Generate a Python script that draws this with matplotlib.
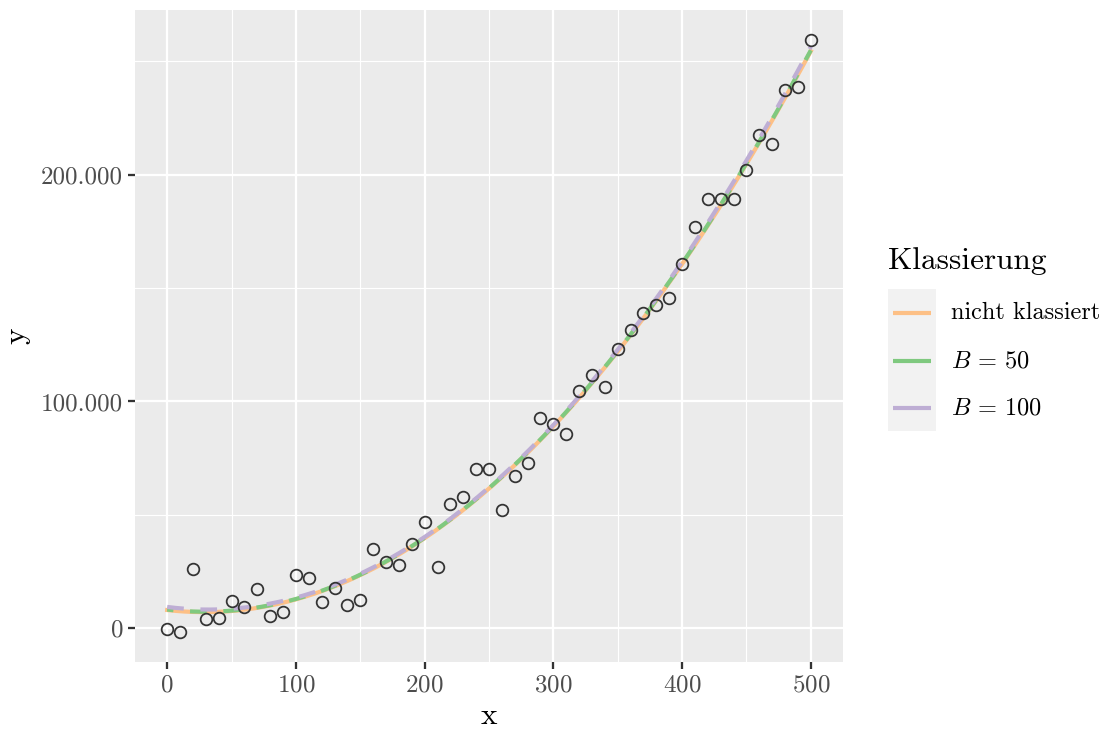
import matplotlib.pyplot as plt
import numpy as np

plt.rcParams['font.family'] = 'cmr10'
plt.rcParams['mathtext.fontset'] = 'cm'
plt.rcParams['axes.formatter.use_mathtext'] = True

# Messwerte
x = np.arange(0, 501, 10)
y = np.array([-400, -1800, 26000, 4000, 4400, 11900, 9250, 17200, 5300, 7050,
              23350, 22000, 11450, 17600, 10100, 12300, 34800, 29100, 27750, 37000,
              46700, 26900, 55000, 57700, 70000, 70000, 52000, 67000, 72700, 92500,
              89900, 85500, 104400, 111500, 106200, 122900, 131300, 139200, 142300, 145400,
              160800, 176700, 189400, 189400, 189400, 202200, 217600, 213700, 237400, 238800,
              259500])

klassen = ['nicht klassiert', r'$B\,=\,50$', r'$B\,=\,100$']
breiten = [None, 50, 100]
farben = ['#FDC086', '#7FC97F', '#BEAED4']

x_ticks = [0, 100, 200, 300, 400, 500]
y_ticks = [0, 100000, 200000]
y_ticklabels = ['0', '100.000', '200.000']


def quad_fit(x, y, B):
    # quadratische Regression, optional auf Klassenmittel
    if B is None:
        return np.polyfit(x, y, 2)
    idx = x // B
    xm, ym, n = [], [], []
    for k in np.unique(idx):
        m = idx == k
        xm.append(x[m].mean())
        ym.append(y[m].mean())
        n.append(m.sum())
    return np.polyfit(xm, ym, 2, w=np.sqrt(n))


W, H = 1104, 731
fig = plt.figure(figsize=(W / 150, H / 150), dpi=150)
ax = fig.add_axes([135 / W, 1 - 662 / H, (843 - 135) / W, (662 - 10) / H])
ax.set_facecolor('#EBEBEB')
for s in ax.spines.values():
    s.set_visible(False)

xx = np.linspace(0, 500, 300)
styles = [dict(ls='-'), dict(ls=(2.5, (4, 4))), dict(ls=(0, (4, 4)))]
for lab, B, c, st in zip(klassen, breiten, farben, styles):
    p = quad_fit(x, y, B)
    ax.plot(xx, np.polyval(p, xx), color=c, lw=2.0, zorder=2,
            dash_capstyle='butt', **st)

ax.plot(x, y, 'o', mfc='none', mec='#333333', ms=5.6, mew=0.85, zorder=3)

ax.set_xlim(-25, 525)
pad = 0.05 * (y.max() - y.min())
ax.set_ylim(y.min() - pad, y.max() + pad)

ax.set_xticks(x_ticks)
ax.set_xticks([50, 150, 250, 350, 450], minor=True)
ax.set_yticks(y_ticks, labels=y_ticklabels)
ax.set_yticks([50000, 150000, 250000], minor=True)
ax.grid(which='major', color='white', lw=1.1)
ax.grid(which='minor', color='white', lw=0.55)
ax.set_axisbelow(True)
ax.tick_params(which='major', length=3.2, width=1.1, color='#333333',
               labelcolor='#4D4D4D', labelsize=12, pad=2.5)
ax.tick_params(which='minor', length=0)

ax.set_xlabel('x', fontsize=15, labelpad=3)
ax.set_ylabel('y', fontsize=15, labelpad=5)

# Legende
fig.text(888 / W, 1 - 261 / H, 'Klassierung', fontsize=15, va='center', ha='left')
lax = fig.add_axes([888 / W, 1 - 431 / H, 48 / W, 142 / H])
lax.set_facecolor('#F2F2F2')
lax.set_xlim(0, 48)
lax.set_ylim(142, 0)
lax.set_xticks([])
lax.set_yticks([])
for s in lax.spines.values():
    s.set_visible(False)
rows = [24, 72, 119]
for r, lab, c in zip(rows, klassen, farben):
    lax.plot([5, 43], [r, r], color=c, lw=2.0, solid_capstyle='butt')
    fig.text(951 / W, 1 - (289 + r) / H, lab, fontsize=11.7, va='center', ha='left')

fig.savefig('out.png', dpi=150)
